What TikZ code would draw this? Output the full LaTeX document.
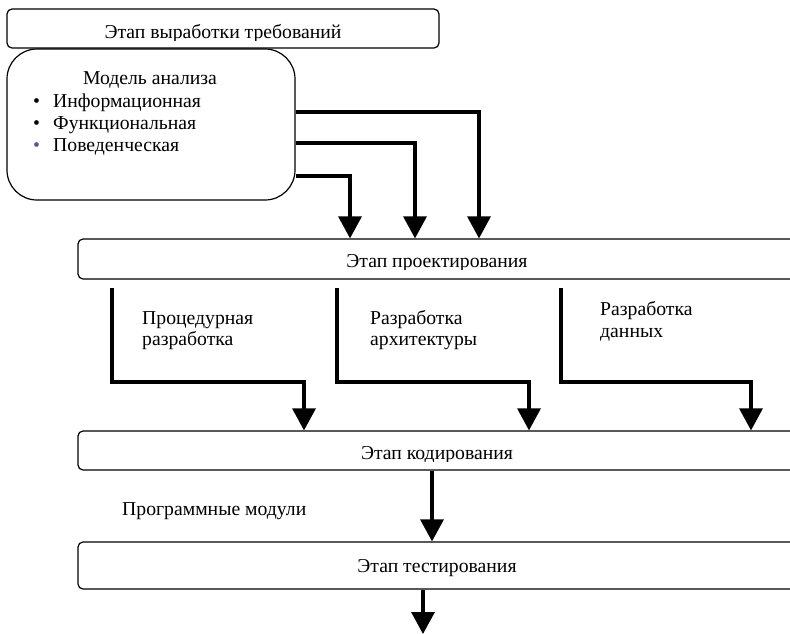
\documentclass[tikz,border=0pt]{standalone}
\usepackage{fontspec}
\setmainfont{Liberation Serif}
\usetikzlibrary{arrows.meta}
\definecolor{bulletblue}{RGB}{85,85,150}
\begin{document}
\begin{tikzpicture}[x=1pt,y=-1pt,
  stagebox/.style={draw, line width=1.2pt, rounded corners=5pt, inner sep=0pt},
  conn/.style={line width=3.2pt, -{Triangle[width=23pt,length=22pt]}},
  txt/.style={font=\fontsize{19.7}{22}\selectfont, inner sep=0pt},
  lbl/.style={txt, anchor=base west},
  ctr/.style={txt, anchor=base}]
\useasboundingbox (0,0) rectangle (790,633);
\fill[white] (0,0) rectangle (790,633);

% boxes
\node[stagebox, minimum width=432pt, minimum height=39pt] (req) at (223,28.5) {};
\node[stagebox, rounded corners=30pt, minimum width=288pt, minimum height=151pt] (model) at (151,124.5) {};
\node[stagebox, minimum width=718pt, minimum height=40pt] (design) at (437,259) {};
\node[stagebox, minimum width=718pt, minimum height=39pt] (coding) at (437,450.5) {};
\node[stagebox, minimum width=718pt, minimum height=47pt] (testing) at (437,565.5) {};

% box texts
\begin{scope}
  \clip (0,0) rectangle (790,40);
  \node[ctr] (reqtext) at (223,38) {Этап выработки требований};
\end{scope}
\begin{scope}
  \clip (0,240) rectangle (790,269);
  \node[ctr] (designtext) at (437,267) {Этап проектирования};
\end{scope}
\begin{scope}
  \clip (0,432) rectangle (790,461);
  \node[ctr] (codingtext) at (437,459) {Этап кодирования};
\end{scope}
\node[ctr] (testingtext) at (437,572) {Этап тестирования};

% model contents
\node[ctr] (mtitle) at (150,84) {Модель анализа};
\node[lbl] (bu1) at (33,107) {•};
\node[lbl] (bu2) at (33,129) {•};
\node[lbl, text=bulletblue] (bu3) at (33,151) {•};
\node[lbl] (it1) at (53,107) {Информационная};
\node[lbl] (it2) at (53,129) {Функциональная};
\node[lbl] (it3) at (53,151) {Поведенческая};

% connectors model -> design
\coordinate (y1) at (0,112);
\coordinate (y2) at (0,143);
\coordinate (y3) at (0,176);
\coordinate (x1) at (479,0);
\coordinate (x2) at (415,0);
\coordinate (x3) at (350,0);
\draw[conn] (model.east |- y1) -| (design.north -| x1);
\draw[conn] (model.east |- y2) -| (design.north -| x2);
\draw[conn] (model.east |- y3) -| (design.north -| x3);

% connectors design -> coding
\coordinate (s1) at (112,288);
\coordinate (m1) at (304,382);
\coordinate (s2) at (337,288);
\coordinate (m2) at (529,382);
\coordinate (s3) at (561,288);
\coordinate (m3) at (751,382);
\draw[conn] (s1) |- (m1) -- (coding.north -| m1);
\draw[conn] (s2) |- (m2) -- (coding.north -| m2);
\draw[conn] (s3) |- (m3) -- (coding.north -| m3);

\node[lbl] (l1a) at (142,324) {Процедурная};
\node[lbl] (l1b) at (142,345) {разработка};
\node[lbl] (l2a) at (370,324) {Разработка};
\node[lbl] (l2b) at (370,345) {архитектуры};
\node[lbl] (l3a) at (600,315) {Разработка};
\node[lbl] (l3b) at (600,337) {данных};

% coding -> testing -> out
\coordinate (c4) at (432,0);
\draw[conn] (coding.south -| c4) -- (testing.north -| c4);
\node[lbl] (prog) at (122,515) {Программные модули};
\coordinate (endpt) at (423,634);
\draw[conn] (testing.south -| endpt) -- (endpt);
\end{tikzpicture}
\end{document}
